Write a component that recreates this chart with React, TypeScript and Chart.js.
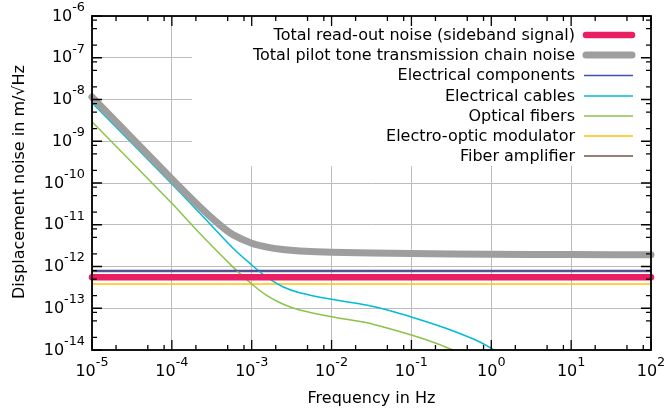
import React, { useEffect, useRef } from "react";
import { Chart, registerables } from "chart.js";

Chart.register(...registerables);

// ---- data ----
const xDecades = [-5, -4, -3, -2, -1, 0, 1, 2];
const yDecades = [-14, -13, -12, -11, -10, -9, -8, -7, -6];
const minorMultipliers = [2, 5, 8];

const seriesLabels = [
  "Total read-out noise (sideband signal)",
  "Total pilot tone transmission chain noise",
  "Electrical components",
  "Electrical cables",
  "Optical fibers",
  "Electro-optic modulator",
  "Fiber amplifier",
];
const seriesColors = ["#E91E63", "#9E9E9E", "#3F51B5", "#00BCD4", "#8BC34A", "#FFC107", "#795548"];
const seriesWidths = [6.5, 7, 1.5, 1.5, 1.5, 1.5, 1.5];

const flatFreq = [1e-5, 1e2];
const readoutNoise = [5.5e-13, 5.5e-13];
const componentsNoise = [8.0e-13, 8.0e-13];
const eomNoise = [3.8e-13, 3.8e-13];
const amplifierNoise = [7.6e-13, 7.6e-13];

const pilotFreq = [1e-5, 1e-4, 2.23e-4, 3.96e-4, 5.8e-4, 1e-3, 1.5e-3, 2.45e-3, 4e-3, 1e-2, 1e-1, 1, 10, 100];
const pilotNoise = [1.15e-8, 1.25e-10, 2.7e-11, 1.0e-11, 5.8e-12, 3.6e-12, 2.95e-12, 2.55e-12, 2.36e-12, 2.2e-12, 2.04e-12, 1.96e-12, 1.93e-12, 1.92e-12];

const cableFreq = [1e-5, 1e-4, 2.23e-4, 5.8e-4, 1e-3, 1.52e-3, 2.45e-3, 3.98e-3, 1e-2, 2.7e-2, 4e-2, 7.1e-2, 0.1, 0.27, 0.71, 1.09, 1.3];
const cableNoise = [8.38e-9, 9.46e-11, 1.91e-11, 2.77e-12, 1.087e-12, 5.7e-13, 3.28e-13, 2.36e-13, 1.64e-13, 1.2e-13, 1.01e-13, 7.5e-14, 6.17e-14, 3.31e-14, 1.58e-14, 1.0e-14, 8.2e-15];

const fiberFreq = [1e-5, 1e-4, 2.23e-4, 5.8e-4, 1e-3, 1.52e-3, 2.45e-3, 3.98e-3, 1e-2, 2.7e-2, 4e-2, 0.1, 0.2, 0.33, 0.45];
const fiberNoise = [2.94e-9, 3.27e-11, 6.24e-12, 9.8e-13, 3.81e-13, 2.07e-13, 1.26e-13, 9.08e-14, 6.28e-14, 4.56e-14, 3.76e-14, 2.29e-14, 1.47e-14, 1.0e-14, 8.1e-15];

const xTitle = "Frequency in Hz";
const yTitle = "Displacement noise in m/\u221AHz";

const FONT = "DejaVu Sans";

function pts(xs: number[], ys: number[]) {
  return xs.map((x, i) => ({ x, y: ys[i] }));
}

export default function App() {
  const ref = useRef<HTMLCanvasElement | null>(null);

  useEffect(() => {
    document.body.style.margin = "0";
    const canvas = ref.current;
    if (!canvas) return;

    const seriesData = [
      pts(flatFreq, readoutNoise),
      pts(pilotFreq, pilotNoise),
      pts(flatFreq, componentsNoise),
      pts(cableFreq, cableNoise),
      pts(fiberFreq, fiberNoise),
      pts(flatFreq, eomNoise),
      pts(flatFreq, amplifierNoise),
    ];

    const datasets = seriesLabels.map((label, i) => ({
      label,
      data: seriesData[i],
      borderColor: seriesColors[i],
      backgroundColor: seriesColors[i],
      borderWidth: seriesWidths[i],
      borderCapStyle: "round" as const,
      borderJoinStyle: "round" as const,
      pointRadius: 0,
      fill: false,
      tension: 0.3,
      clip: seriesWidths[i] > 3 ? 6 : 0,
    }));

    const legendBox = {
      id: "legendBox",
      beforeDatasetsDraw(chart: any) {
        const { ctx, chartArea } = chart;
        ctx.save();
        ctx.fillStyle = "#ffffff";
        ctx.fillRect(192, chartArea.top - 1, chartArea.right - 192 + 1, 166 - chartArea.top + 1);
        ctx.restore();
      },
    };

    const decor = {
      id: "decor",
      afterDraw(chart: any) {
        const { ctx, chartArea } = chart;
        const xs = chart.scales.x;
        const ys = chart.scales.y;
        const { left, right, top, bottom } = chartArea;
        ctx.save();
        ctx.strokeStyle = "#000";
        ctx.lineWidth = 1.3;
        const major = 10, minor = 5;
        ctx.beginPath();
        xDecades.forEach((e, k) => {
          const px = xs.getPixelForValue(Math.pow(10, e));
          ctx.moveTo(px, bottom); ctx.lineTo(px, bottom - major);
          ctx.moveTo(px, top); ctx.lineTo(px, top + major);
          if (k < xDecades.length - 1) {
            minorMultipliers.forEach((m) => {
              const p = xs.getPixelForValue(m * Math.pow(10, e));
              ctx.moveTo(p, bottom); ctx.lineTo(p, bottom - minor);
              ctx.moveTo(p, top); ctx.lineTo(p, top + minor);
            });
          }
        });
        yDecades.forEach((e, k) => {
          const py = ys.getPixelForValue(Math.pow(10, e));
          ctx.moveTo(left, py); ctx.lineTo(left + major, py);
          ctx.moveTo(right, py); ctx.lineTo(right - major, py);
          if (k < yDecades.length - 1) {
            minorMultipliers.forEach((m) => {
              const p = ys.getPixelForValue(m * Math.pow(10, e));
              ctx.moveTo(left, p); ctx.lineTo(left + minor, p);
              ctx.moveTo(right, p); ctx.lineTo(right - minor, p);
            });
          }
        });
        ctx.stroke();
        ctx.lineWidth = 1.8;
        ctx.strokeRect(left, top, right - left, bottom - top);

        ctx.fillStyle = "#000";
        ctx.textBaseline = "middle";
        const mainFont = `16px "${FONT}"`;
        const supFont = `12.8px "${FONT}"`;
        xDecades.forEach((e) => {
          const px = xs.getPixelForValue(Math.pow(10, e));
          const exp = String(e);
          ctx.font = mainFont;
          const w10 = ctx.measureText("10").width;
          ctx.font = supFont;
          const we = ctx.measureText(exp).width;
          const start = px - (w10 + we) / 2;
          ctx.textAlign = "left";
          ctx.font = mainFont;
          ctx.fillText("10", start, 372);
          ctx.font = supFont;
          ctx.fillText(exp, start + w10, 363);
        });
        yDecades.forEach((e) => {
          const py = ys.getPixelForValue(Math.pow(10, e));
          const exp = String(e);
          const rightEdge = 85;
          ctx.font = supFont;
          const we = ctx.measureText(exp).width;
          ctx.textAlign = "right";
          ctx.fillText(exp, rightEdge, py - 8.5);
          ctx.font = mainFont;
          ctx.fillText("10", rightEdge - we, py + 0.5);
        });

        ctx.font = mainFont;
        ctx.textAlign = "center";
        ctx.fillText(xTitle, (left + right) / 2, 399);
        ctx.save();
        ctx.translate(20, 182);
        ctx.rotate(-Math.PI / 2);
        ctx.fillText(yTitle, 0, 0);
        ctx.restore();

        const rowY = [35, 55, 75.5, 96, 116, 136, 156];
        seriesLabels.forEach((label, i) => {
          const y = rowY[i];
          ctx.font = mainFont;
          ctx.textAlign = "right";
          ctx.fillStyle = "#000";
          ctx.fillText(label, 575, y + 0.5);
          ctx.beginPath();
          ctx.strokeStyle = seriesColors[i];
          ctx.lineWidth = seriesWidths[i];
          ctx.lineCap = seriesWidths[i] > 3 ? "round" : "butt";
          const x0 = seriesWidths[i] > 3 ? 586 : 584;
          const x1 = seriesWidths[i] > 3 ? 632 : 633;
          ctx.moveTo(x0, y);
          ctx.lineTo(x1, y);
          ctx.stroke();
        });
        ctx.restore();
      },
    };

    const chart = new Chart(canvas, {
      type: "line",
      data: { datasets: datasets as any },
      options: {
        animation: false,
        responsive: false,
        devicePixelRatio: 1,
        layout: { padding: { left: 92, right: 13, top: 16, bottom: 67 } },
        plugins: { legend: { display: false }, tooltip: { enabled: false } },
        scales: {
          x: {
            type: "logarithmic",
            min: 1e-5,
            max: 100,
            afterBuildTicks: (s: any) => {
              s.ticks = xDecades.map((e) => ({ value: Math.pow(10, e) }));
            },
            ticks: { display: false },
            grid: { color: "#bdbdbd", lineWidth: 1, drawTicks: false },
            border: { display: false },
          },
          y: {
            type: "logarithmic",
            min: 1e-14,
            max: 1e-6,
            afterBuildTicks: (s: any) => {
              s.ticks = yDecades.map((e) => ({ value: Math.pow(10, e) }));
            },
            ticks: { display: false },
            grid: { color: "#bdbdbd", lineWidth: 1, drawTicks: false },
            border: { display: false },
          },
        },
      },
      plugins: [legendBox, decor],
    });

    return () => chart.destroy();
  }, []);

  return (
    <div style={{ width: 664, height: 417, background: "#fff" }}>
      <canvas ref={ref} width={664} height={417} style={{ width: 664, height: 417, display: "block" }} />
    </div>
  );
}
